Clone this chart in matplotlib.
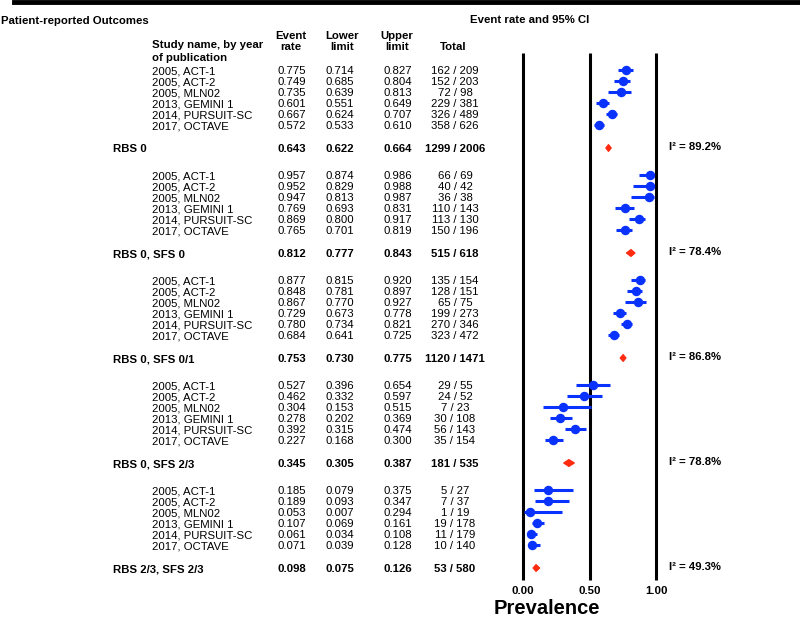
import matplotlib
matplotlib.use('Agg')
import matplotlib.pyplot as plt
from matplotlib.lines import Line2D
import matplotlib.transforms as mtransforms

plt.rcParams['font.family'] = ['Liberation Sans', 'DejaVu Sans']

# DATA

studies = ['2005, ACT-1', '2005, ACT-2', '2005, MLN02', '2013, GEMINI 1', '2014, PURSUIT-SC', '2017, OCTAVE']
groups = ['RBS 0', 'RBS 0, SFS 0', 'RBS 0, SFS 0/1', 'RBS 0, SFS 2/3', 'RBS 2/3, SFS 2/3']

rate = [
    [0.775, 0.749, 0.735, 0.601, 0.667, 0.572],
    [0.957, 0.952, 0.947, 0.769, 0.869, 0.765],
    [0.877, 0.848, 0.867, 0.729, 0.780, 0.684],
    [0.527, 0.462, 0.304, 0.278, 0.392, 0.227],
    [0.185, 0.189, 0.053, 0.107, 0.061, 0.071],
]
lower = [
    [0.714, 0.685, 0.639, 0.551, 0.624, 0.533],
    [0.874, 0.829, 0.813, 0.693, 0.800, 0.701],
    [0.815, 0.781, 0.770, 0.673, 0.734, 0.641],
    [0.396, 0.332, 0.153, 0.202, 0.315, 0.168],
    [0.079, 0.093, 0.007, 0.069, 0.034, 0.039],
]
upper = [
    [0.827, 0.804, 0.813, 0.649, 0.707, 0.610],
    [0.986, 0.988, 0.987, 0.831, 0.917, 0.819],
    [0.920, 0.897, 0.927, 0.778, 0.821, 0.725],
    [0.654, 0.597, 0.515, 0.369, 0.474, 0.300],
    [0.375, 0.347, 0.294, 0.161, 0.108, 0.128],
]
totals = [
    ['162 / 209', '152 / 203', '72 / 98', '229 / 381', '326 / 489', '358 / 626'],
    ['66 / 69', '40 / 42', '36 / 38', '110 / 143', '113 / 130', '150 / 196'],
    ['135 / 154', '128 / 151', '65 / 75', '199 / 273', '270 / 346', '323 / 472'],
    ['29 / 55', '24 / 52', '7 / 23', '30 / 108', '56 / 143', '35 / 154'],
    ['5 / 27', '7 / 37', '1 / 19', '19 / 178', '11 / 179', '10 / 140'],
]

sum_rate = [0.643, 0.812, 0.753, 0.345, 0.098]
sum_lower = [0.622, 0.777, 0.730, 0.305, 0.075]
sum_upper = [0.664, 0.843, 0.775, 0.387, 0.126]
sum_total = ['1299 / 2006', '515 / 618', '1120 / 1471', '181 / 535', '53 / 580']
i2 = ['89.2%', '78.4%', '86.8%', '78.8%', '49.3%']

ticks = [0.0, 0.5, 1.0]

# LAYOUT (pixels)

W, H = 800, 617
x0_px, x1_px = 523, 656
scale = x1_px - x0_px
top_row = 70
row_h = 11
group_h = 105
sum_off = 78
half_cap = 4   # baseline sits this far below the row centre

blue = '#0a32ff'
red = '#ff2a10'
fs = 8.2

fig = plt.figure(figsize=(W / 100, H / 100), dpi=100)
ax = fig.add_axes([0, 0, 1, 1])
ax.set_xlim(-x0_px / scale, (W - x0_px) / scale)
ax.set_ylim(H, 0)
ax.axis('off')

# x in figure pixels, y in data (pixels from top)
tr = mtransforms.blended_transform_factory(
    mtransforms.Affine2D().scale(1 / W, 1) + fig.transFigure, ax.transData)

def col_text(xpx, y, s, bold=False, ha='left', size=fs):
    ax.text(xpx, y + half_cap + 0.2, s, transform=tr, fontsize=size, ha=ha, va='baseline',
            fontweight='bold' if bold else 'normal')

# top rule
fig.add_artist(Line2D([14 / W, 1], [1 - 2 / H, 1 - 2 / H], color='black', lw=3.5,
                      transform=fig.transFigure))

# headers
col_text(1, 20, 'Patient-reported Outcomes', bold=True)
col_text(470, 19, 'Event rate and 95% CI', bold=True)
col_text(152, 44, 'Study name, by year', bold=True)
col_text(152, 57, 'of publication', bold=True)
for xc, l1, l2 in [(291, 'Event', 'rate'), (342, 'Lower', 'limit'), (397, 'Upper', 'limit')]:
    col_text(xc, 35, l1, bold=True, ha='center')
    col_text(xc, 46, l2, bold=True, ha='center')
col_text(453, 46, 'Total', bold=True, ha='center')

# reference lines
ax.vlines(ticks, 53, 580, color='black', lw=2.2)
for t in ticks:
    ax.text(t, 590 + half_cap, '%.2f' % t, fontsize=fs, fontweight='bold', ha='center', va='baseline')
col_text(547, 610, 'Prevalence', bold=True, ha='center', size=14.5)

for g in range(len(groups)):
    base = top_row + g * group_h
    for i in range(len(studies)):
        y = base + i * row_h
        col_text(152, y, studies[i])
        col_text(278, y, '%.3f' % rate[g][i])
        col_text(326, y, '%.3f' % lower[g][i])
        col_text(383, y, '%.3f' % upper[g][i])
        col_text(455, y, totals[g][i], ha='center')
        ax.plot([lower[g][i], upper[g][i]], [y, y], color=blue, lw=2.2, solid_capstyle='butt')
        ax.plot(rate[g][i], y, 'o', color=blue, ms=5.8, mec=blue)

    ys = base + sum_off
    col_text(113, ys, groups[g], bold=True)
    col_text(278, ys, '%.3f' % sum_rate[g], bold=True)
    col_text(326, ys, '%.3f' % sum_lower[g], bold=True)
    col_text(383, ys, '%.3f' % sum_upper[g], bold=True)
    col_text(455, ys, sum_total[g], bold=True, ha='center')
    ax.fill([sum_lower[g], sum_rate[g], sum_upper[g], sum_rate[g]],
            [ys, ys - 3.5, ys, ys + 3.5], color=red, lw=0.8, ec=red)
    col_text(669, ys - 2, 'I² = ' + i2[g], bold=True)

fig.savefig('out.png', dpi=100)
